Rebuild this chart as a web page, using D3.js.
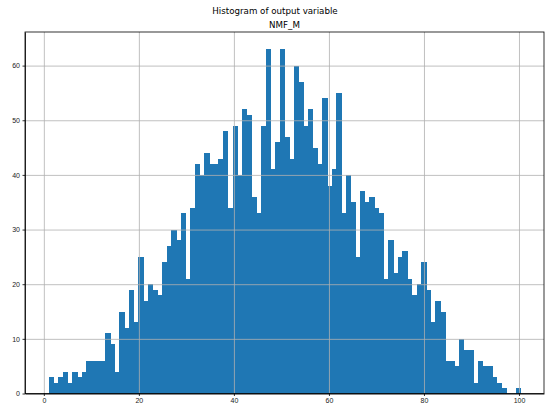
<!DOCTYPE html>
<html>
<head>
<meta charset="utf-8">
<script src="https://cdn.jsdelivr.net/npm/d3@7"></script>
<style>
	body { margin: 0; background: #fff; }
	svg { display: block; font-family: "DejaVu Sans", sans-serif; }
	.axis path, .axis line { stroke: #000; stroke-width: 0.8; }
	.axis text { fill: #222; font-size: 7px; }
	.grid line { stroke: #b0b0b0; stroke-width: 0.8; }
	.grid path { display: none; }
	.bars rect { shape-rendering: crispEdges; }
</style>
</head>
<body>
<svg class="chart" width="550" height="411"></svg>
<script>
const binMin = 1.0;
const binMax = 100.3;
const counts = [
	3, 2, 3, 4, 2, 4, 3, 4, 6, 6, 6, 6, 11, 9, 4, 15, 12, 19, 13, 25,
	17, 20, 19, 18, 24, 27, 30, 28, 33, 21, 34, 42, 40, 44, 42, 42, 43, 48, 34, 49,
	40, 52, 51, 36, 33, 49, 63, 41, 46, 63, 47, 43, 60, 57, 49, 52, 45, 42, 54, 38,
	41, 55, 33, 40, 35, 25, 37, 35, 36, 34, 33, 21, 28, 22, 25, 26, 21, 18, 20, 24,
	19, 13, 17, 15, 6, 6, 5, 10, 8, 8, 2, 6, 5, 5, 3, 2, 1, 0, 0, 1
];
const xTicks = [0, 20, 40, 60, 80, 100];
const yTicks = [0, 10, 20, 30, 40, 50, 60];
const suptitle = 'Histogram of output variable';
const axTitle = 'NMF_M';

function startApp() {
	const margin = {top: 32, left: 25, bottom: 17.5, right: 6};
	const viewWidth = 550;
	const viewHeight = 411;
	const width = viewWidth - margin.left - margin.right;
	const height = viewHeight - margin.top - margin.bottom;
	const binWidth = (binMax - binMin) / counts.length;
	const pad = (binMax - binMin) * 0.05;

	const xScale = d3.scaleLinear()
		.domain([binMin - pad, binMax + pad])
		.range([0, width]);
	const yScale = d3.scaleLinear()
		.domain([0, d3.max(counts) * 1.05])
		.range([height, 0]);

	const svg = d3.select('.chart');

	svg.append('text')
		.attr('x', viewWidth / 2)
		.attr('y', 14)
		.attr('text-anchor', 'middle')
		.style('font-size', '8.7px')
		.text(suptitle);

	const chart = svg.append('g')
		.attr('transform', `translate(${margin.left}, ${margin.top})`);

	chart.append('text')
		.attr('x', width / 2)
		.attr('y', -4)
		.attr('text-anchor', 'middle')
		.style('font-size', '8.7px')
		.text(axTitle);

	chart.append('g')
		.classed('bars', true)
		.selectAll('rect')
		.data(counts)
		.enter()
			.append('rect')
			.attr('x', (d, i) => xScale(binMin + i * binWidth))
			.attr('width', (d, i) => xScale(binMin + (i + 1) * binWidth) - xScale(binMin + i * binWidth) + 0.6)
			.attr('y', d => yScale(d))
			.attr('height', d => height - yScale(d))
			.attr('fill', '#1f77b4');

	// grid sits above the bars, like matplotlib
	chart.append('g')
		.classed('grid', true)
		.attr('transform', `translate(0, ${height})`)
		.call(d3.axisBottom(xScale).tickValues(xTicks).tickSize(-height).tickFormat(''));

	chart.append('g')
		.classed('grid', true)
		.call(d3.axisLeft(yScale).tickValues(yTicks).tickSize(-width).tickFormat(''));

	chart.append('g')
		.classed('axis', true)
		.attr('transform', `translate(0, ${height})`)
		.call(d3.axisBottom(xScale).tickValues(xTicks).tickSize(2.5).tickSizeOuter(0).tickPadding(2.5));

	chart.append('g')
		.classed('axis', true)
		.call(d3.axisLeft(yScale).tickValues(yTicks).tickSize(2.5).tickSizeOuter(0).tickPadding(2.5));

	chart.append('rect')
		.attr('width', width)
		.attr('height', height)
		.attr('fill', 'none')
		.attr('stroke', '#000')
		.attr('stroke-width', 0.8);
}

window.onload = startApp;
</script>
</body>
</html>
